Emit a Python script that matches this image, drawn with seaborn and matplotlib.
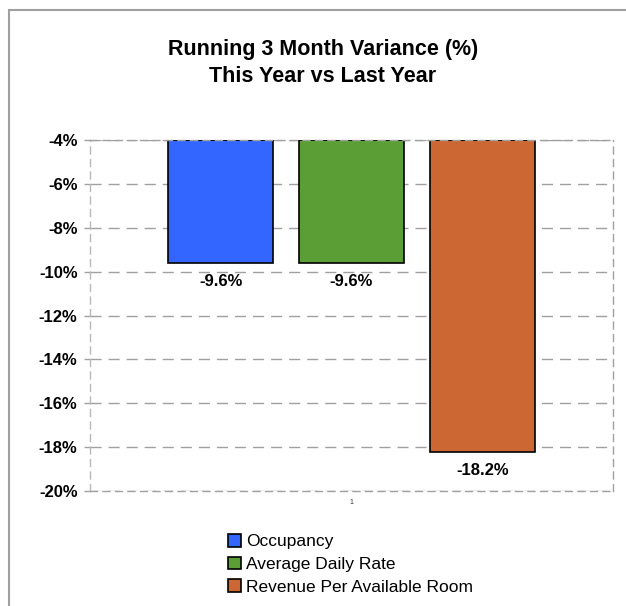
import matplotlib
matplotlib.use("Agg")
import matplotlib.pyplot as plt
import seaborn as sns
import pandas as pd
from matplotlib.patches import Rectangle

# datos del grafico
periods = ["1", "1", "1"]
series = ["Occupancy", "Average Daily Rate", "Revenue Per Available Room"]
variance = [-9.6, -9.6, -18.2]
colors = ["#3366FF", "#5A9E35", "#CC6633"]
ytick_values = [-4, -6, -8, -10, -12, -14, -16, -18, -20]
ytick_labels = [f"{v}%" for v in ytick_values]

df = pd.DataFrame({"period": periods, "series": series, "variance": variance})

sns.set_style("white")
plt.rcParams["font.family"] = ["Liberation Sans", "DejaVu Sans"]
plt.rcParams["text.color"] = "black"

W, H = 626, 606
fig = plt.figure(figsize=(W / 100, H / 100), dpi=100)

# marco gris alrededor del grafico
fig.patches.append(Rectangle((9 / W, -0.1), 1.2, (H - 10) / H + 0.1,
                             transform=fig.transFigure, fill=False,
                             edgecolor="#A0A0A0", linewidth=1.5))

ax = fig.add_axes([90 / W, 1 - 491 / H, 523 / W, 351 / H])

sns.barplot(data=df, x="period", y="variance", hue="series",
            palette=colors, width=0.75, gap=0.2, edgecolor="black",
            linewidth=1.2, saturation=1, ax=ax)

# las barras cuelgan desde el tope del eje (-4%)
base = ytick_values[0]
for container in ax.containers:
    for bar in container:
        bar.set_height(bar.get_height() - base)
        bar.set_y(base)
    ax.bar_label(container, labels=[f"{v:.1f}%" for v in container.datavalues],
                 padding=8, fontsize=12, fontweight="bold", color="black")

ax.set_xlim(-0.5, 0.5)
ax.set_ylim(-20, -4)
ax.set_yticks(ytick_values)
ax.set_yticklabels(ytick_labels, fontweight="bold", fontsize=12)
ax.set_xlabel("")
ax.set_ylabel("")

ax.set_axisbelow(True)
ax.yaxis.grid(True, linestyle=(0, (8, 5)), color="#A0A0A0", linewidth=1)
for name, s in ax.spines.items():
    s.set_visible(True)
    s.set_color("#A0A0A0")
    s.set_linestyle((0, (5, 4)))
    s.set_linewidth(1)
ax.spines["left"].set_color("#B8B8B8")

ax.tick_params(axis="y", left=True, length=4, width=1, color="#A0A0A0",
               labelcolor="black", pad=5)
ax.tick_params(axis="x", length=0, labelsize=5, labelcolor="#333333", pad=6)

# titulo en dos lineas
fig.text(323 / W, 1 - 50 / H, "Running 3 Month Variance (%)", ha="center",
         va="center", fontsize=15.5, fontweight="bold", color="black")
fig.text(323 / W, 1 - 77 / H, "This Year vs Last Year", ha="center",
         va="center", fontsize=15.5, fontweight="bold", color="black")

handles, labels = ax.get_legend_handles_labels()
ax.legend(handles, labels, loc="upper left", bbox_to_anchor=(221 / W, 1 - 527 / H),
          bbox_transform=fig.transFigure, frameon=False, fontsize=12.5,
          handlelength=0.75, handleheight=0.75, handletextpad=0.3,
          labelspacing=0.42, borderaxespad=0, labelcolor="black")

fig.savefig("out.png", dpi=100)
